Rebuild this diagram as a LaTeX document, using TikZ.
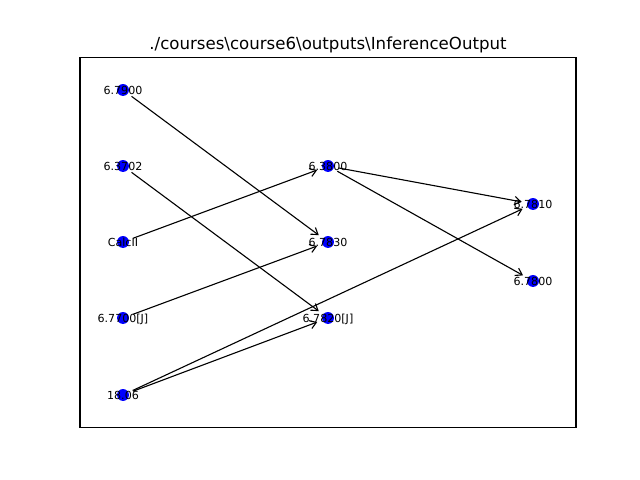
\documentclass[tikz,border=0pt]{standalone}
\usepackage{fontspec}
\setmainfont{DejaVu Sans}
\usetikzlibrary{arrows.meta}
\tikzset{
  dot/.style={circle,fill={rgb,255:red,0;green,0;blue,255},draw=none,minimum size=8.6pt,inner sep=0pt},
  lbl/.style={font=\fontsize{8}{9.6}\selectfont,inner sep=0pt,text height=5.8pt,text depth=0pt},
  edge/.style={-{Straight Barb[length=4.5pt,width=6pt]},line width=0.8pt,shorten >=3.8pt,shorten <=3.2pt},
}
\begin{document}
\begin{tikzpicture}[x=0.01in,y=-0.01in]
\useasboundingbox (0,0) rectangle (640,480);
\draw[line width=0.8pt] (80,57.6) rectangle (576,427.2);
\node[font=\fontsize{12}{14.4}\selectfont,anchor=base,inner sep=0pt] (title) at (328,49.3) {./courses\textbackslash course6\textbackslash outputs\textbackslash InferenceOutput};
\node[dot] (a) at (123,90) {};
\node[dot] (b) at (123,166) {};
\node[dot] (c) at (123,242) {};
\node[dot] (d) at (123,318) {};
\node[dot] (e) at (123,395) {};
\node[dot] (f) at (328,166) {};
\node[dot] (g) at (328,242) {};
\node[dot] (h) at (328,318) {};
\node[dot] (i) at (533,204) {};
\node[dot] (j) at (533,281) {};
\draw[edge] (a) -- (g);
\draw[edge] (b) -- (h);
\draw[edge] (c) -- (f);
\draw[edge] (d) -- (g);
\draw[edge] (e) -- (i);
\draw[edge] (e) -- (h);
\draw[edge] (f) -- (i);
\draw[edge] (f) -- (j);
\node[lbl] (la) at (a) {6.7900};
\node[lbl] (lb) at (b) {6.3702};
\node[lbl] (lc) at (c) {CalcII};
\node[lbl] (ld) at (d) {6.7700[J]};
\node[lbl] (le) at (e) {18.06};
\node[lbl] (lf) at (f) {6.3800};
\node[lbl] (lg) at (g) {6.7830};
\node[lbl] (lh) at (h) {6.7820[J]};
\node[lbl] (li) at (i) {6.7810};
\node[lbl] (lj) at (j) {6.7800};
\end{tikzpicture}
\end{document}
